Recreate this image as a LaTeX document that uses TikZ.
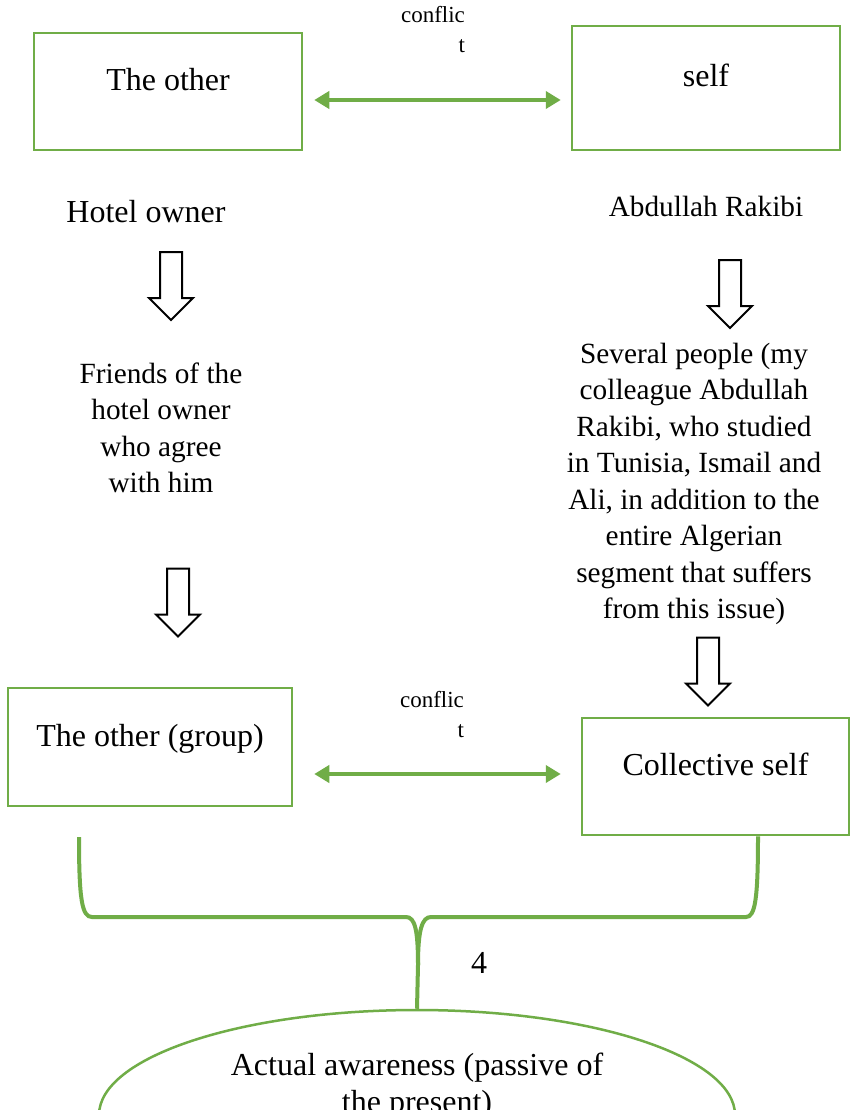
\documentclass[tikz,border=0pt]{standalone}
\usepackage{fontspec}
\setmainfont{Liberation Serif}
\usetikzlibrary{arrows.meta,shapes.arrows,shapes.geometric}
\definecolor{boxgreen}{HTML}{70AD47}
\newcommand{\diagfont}{\fontsize{32}{36.5}\selectfont}
\newcommand{\notefont}{\fontsize{29.3}{36.5}\selectfont}
\newcommand{\tagfont}{\fontsize{23}{30}\selectfont}
\tikzset{
	box/.style={draw=boxgreen, line width=2.5pt, minimum width=268pt, minimum height=117pt, inner sep=0pt, text height=22pt, text depth=24pt, font=\diagfont},
	txt/.style={font=\diagfont, inner sep=0pt, align=center},
	note/.style={font=\notefont, inner sep=0pt, align=center},
	tag/.style={font=\tagfont, inner sep=0pt, align=right},
	conflict/.style={draw=boxgreen, line width=4pt, {Triangle[length=15pt,width=17pt]}-{Triangle[length=15pt,width=17pt]}},
	blockarrow/.style={single arrow, draw, line width=2pt, minimum height=68pt, inner sep=10pt, single arrow head extend=11pt, shape border rotate=270},
	brace/.style={draw=boxgreen, line width=4pt},
	awareoval/.style={ellipse, draw=boxgreen, line width=2.5pt, minimum width=636pt, minimum height=210pt, inner sep=0pt}
}
\begin{document}
\begin{tikzpicture}[x=1pt, y=-1pt]
			\fill[white] (0,0) rectangle (849,1110);
			\useasboundingbox (0,0) rectangle (849,1110);

			\node[box](other) at (168,91.5){The other};
			\node[box, minimum height=124pt](self) at (706,88){self};
			\node[tag](conflictop) at (433,30){conflic\\t};
			\draw[conflict] ([xshift=11pt,yshift=-8.5pt]other.east) -- ([xshift=-10pt,yshift=-12pt]self.west);

			\node[txt, anchor=base](hotel) at (146,222){Hotel owner};
			\node[note, anchor=base](abdullah) at (706,216){Abdullah Rakibi};
			\node[blockarrow](arr1) at (171,280.5){};
			\node[blockarrow](arr2) at (730,288.5){};

			\node[note](friends) at (161,428){Friends of the\\hotel owner\\who agree\\with him};
			\node[note](several) at (694,484){Several people (my\\colleague Abdullah\\Rakibi, who studied\\in Tunisia, Ismail and\\Ali, in addition to the\\entire Algerian\\segment that suffers\\from this issue)};
			\node[blockarrow](arr3) at (178,597){};
			\node[blockarrow](arr4) at (708,666){};

			\node[box, minimum width=284pt, minimum height=118pt](group) at (150,747){The other (group)};
			\node[box, minimum width=267pt](collective) at (715.5,776.5){Collective self};
			\node[tag](conflicbot) at (432,715){conflic\\t};
			\draw[conflict] ([xshift=21pt,yshift=-27pt]group.east) -- ([xshift=-20pt,yshift=2.5pt]collective.west);

			\node[awareoval](aware) at (417,1115){};
			\node[txt](awaretext) at (417,1086){Actual awareness (passive of\\the present)};
			\node[txt, anchor=base](four) at (479,973){4};

			\coordinate (braceL) at (79,837);
			\coordinate (braceR) at ([xshift=42.5pt]collective.south);
			\draw[brace] (braceL) .. controls (79,900) and (82,917) .. (92,917) -- (406,917) .. controls (415,917) and (418,930) .. (418,965) -- (aware.north);
			\draw[brace] (braceR) .. controls (758,900) and (755,917) .. (746,917) -- (431,917) .. controls (422,917) and (418,930) .. (418,965);
		\end{tikzpicture}
\end{document}
